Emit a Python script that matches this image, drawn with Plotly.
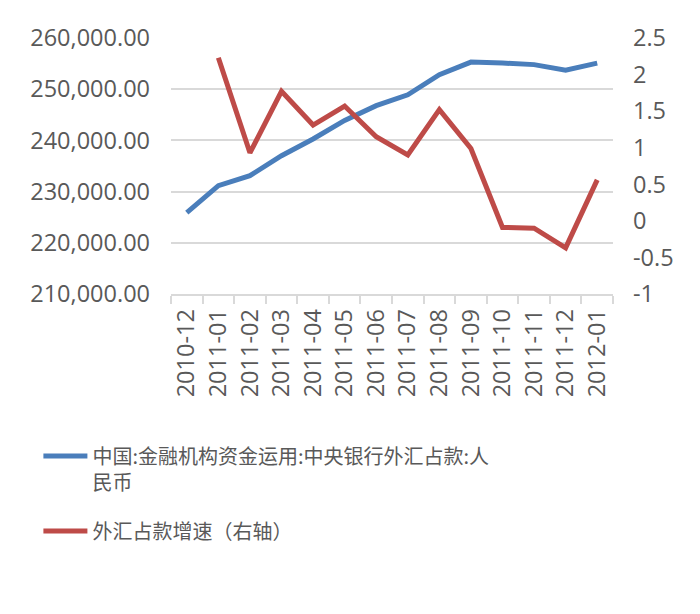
import plotly.graph_objects as go

# 月份（横轴类别）
months = ["2010-12", "2011-01", "2011-02", "2011-03", "2011-04", "2011-05", "2011-06",
          "2011-07", "2011-08", "2011-09", "2011-10", "2011-11", "2011-12", "2012-01"]

# 中央银行外汇占款（亿元，左轴）
fx_holdings = [225900, 231150, 233100, 237000, 240270, 243900, 246780,
               248900, 252830, 255300, 255100, 254800, 253700, 255100]

# 外汇占款增速（右轴），2010-12 无数据
fx_growth = [None, 2.23, 0.93, 1.77, 1.31, 1.57, 1.15,
             0.90, 1.52, 0.99, -0.09, -0.10, -0.37, 0.56]

right_ticks = [2.5, 2, 1.5, 1, 0.5, 0, -0.5, -1]
right_labels = ["2.5", "2", "1.5", "1", "0.5", "0", "-0.5", "-1"]

num_font = dict(family="Open Sans, Noto Sans, sans-serif", size=23.5, color="#595959")

fig = go.Figure()
fig.add_trace(go.Scatter(
    x=months, y=fx_holdings, mode="lines",
    line=dict(color="#4A7EBB", width=5),
    name="中国:金融机构资金运用:中央银行外汇占款:人<br>民币",
    legendgroup="a",
))
fig.add_trace(go.Scatter(
    x=months, y=fx_growth, mode="lines", yaxis="y2",
    line=dict(color="#BE4B48", width=5),
    name="外汇占款增速（右轴）",
    legendgroup="b",
))

# 页面 body 自带 8px 边距，这里的边距已扣除
fig.update_layout(
    width=700, height=614,
    margin=dict(l=163, r=95, t=30, b=328),
    paper_bgcolor="white", plot_bgcolor="white",
    showlegend=True,
    xaxis=dict(
        type="category", range=[-0.5, len(months) - 0.5],
        tickangle=-90, tickfont=num_font,
        showgrid=False, showline=True, linecolor="#D9D9D9", linewidth=1.5,
        ticks="outside", tickson="boundaries", ticklen=8, tickcolor="#D9D9D9",
        tickwidth=1.5, ticklabelstandoff=4,
    ),
    yaxis=dict(
        range=[210000, 260000], dtick=10000, tickformat=",.2f",
        tickfont=num_font, showgrid=True, gridcolor="#D9D9D9", gridwidth=1.5,
        zeroline=False, showline=False, ticks="", ticklabelstandoff=20,
    ),
    yaxis2=dict(
        overlaying="y", side="right", range=[-1, 2.5],
        tickvals=right_ticks, ticktext=right_labels,
        tickfont=num_font, showgrid=False, zeroline=False, showline=False,
        ticks="", ticklabelstandoff=19,
    ),
    legend=dict(
        x=-0.30, y=-0.557, xanchor="left", yanchor="top",
        font=dict(family="Noto Sans CJK SC, sans-serif", size=20, color="#595959"),
        valign="top", traceorder="grouped", tracegroupgap=20, itemwidth=44,
        bgcolor="rgba(0,0,0,0)",
    ),
)

fig.write_html("out.html")
